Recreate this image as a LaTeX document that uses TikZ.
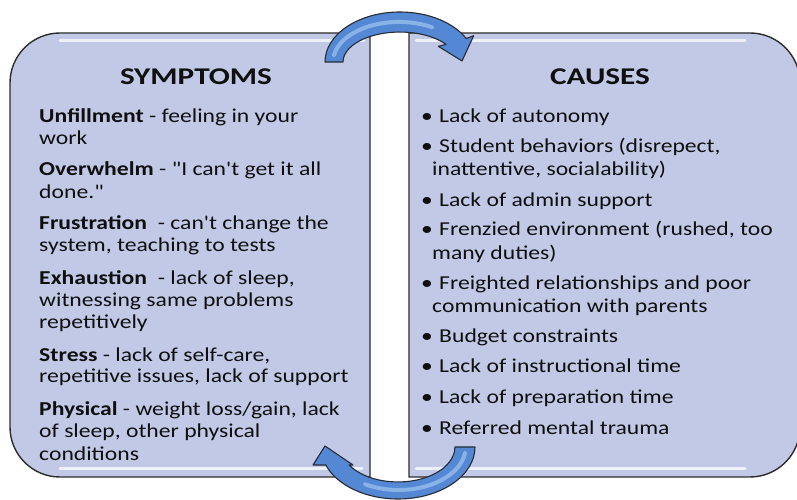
\documentclass[tikz,border=0pt]{standalone}
\usepackage{fontspec}
\newfontfamily\cf{Carlito}
\definecolor{boxfill}{RGB}{193,201,230}
\definecolor{boxline}{RGB}{45,45,45}
\definecolor{arrfill}{RGB}{84,136,212}
\definecolor{arrline}{RGB}{40,44,52}
\definecolor{arrhi}{RGB}{160,196,240}
\definecolor{txt}{RGB}{15,15,15}
\begin{document}
\begin{tikzpicture}[x=1pt,y=1pt,
  box/.style={fill=boxfill, draw=boxline, line width=1.4pt},
  hilite/.style={draw=white, line width=3pt, opacity=0.75, line cap=round},
  arr/.style={fill=arrfill, draw=arrline, line width=1.1pt, line join=round},
  arrgloss/.style={draw=arrhi, line width=4pt, opacity=0.7, line cap=round},
  ttl/.style={font=\cf\bfseries\fontsize{24}{27}\selectfont, text=txt, anchor=base, inner sep=0pt, xscale=1.3},
  ln/.style={font=\cf\fontsize{19.7}{22}\selectfont, text=txt, anchor=base west, inner sep=0pt, xscale=1.2},
]
\useasboundingbox (0,0) rectangle (797,500);
\clip (0,0) rectangle (797,500);
\fill[white] (0,0) rectangle (797,500);

% boxes
\path[box] (370,467) -- (60,467) arc[start angle=90,end angle=180,radius=50]
  -- (10,73) arc[start angle=180,end angle=270,radius=50] -- (370,23) -- cycle;
\path[box] (409,467) -- (750,467) arc[start angle=90,end angle=0,radius=50]
  -- (800,73) arc[start angle=0,end angle=-90,radius=50] -- (409,23) -- cycle;
\draw[hilite] (60,459) -- (364,459);
\draw[hilite] (60,31) -- (362,31);
\draw[hilite] (416,459) -- (745,459);
\draw[hilite] (416,31) -- (745,31);

% top arrow
\path[arr] (325,438) arc[start angle=180,end angle=28,x radius=75,y radius=50]
  -- (473.7,464.3) -- (462,439) -- (438.3,453.7) -- (446.1,455.6)
  arc[start angle=36,end angle=180,x radius=57,y radius=30] -- cycle;
\draw[arrgloss] (334,445) arc[start angle=170,end angle=60,x radius=66,y radius=40];

% bottom arrow
\path[arr] (475,53) arc[start angle=0,end angle=-159.7,x radius=77,y radius=52]
  -- (313,35) -- (325,54) -- (353,35) -- (349.1,35)
  arc[start angle=-149,end angle=0,x radius=57,y radius=35] -- cycle;
\draw[arrgloss] (465,47) arc[start angle=-8,end angle=-120,x radius=67,y radius=43];

% titles
\node[ttl] (symt) at (196,415) {SYMPTOMS};
\node[ttl] (caut) at (600,415) {CAUSES};

% symptoms
\node[ln] (s1) at (39,377) {\bfseries Unfillment\mdseries\ - feeling in your};
\node[ln] (s2) at (39,355) {work};
\node[ln] (s3) at (39,324) {\bfseries Overwhelm\mdseries\ - "I can't get it all};
\node[ln] (s4) at (39,301) {done."};
\node[ln] (s5) at (39,270) {\bfseries Frustration\mdseries\ \ - can't change the};
\node[ln] (s6) at (39,248) {system, teaching to tests};
\node[ln] (s7) at (39,215) {\bfseries Exhaustion\mdseries\ \ - lack of sleep,};
\node[ln] (s8) at (39,193) {witnessing same problems};
\node[ln] (s9) at (39,171) {repetitively};
\node[ln] (s10) at (39,138) {\bfseries Stress\mdseries\ - lack of self-care,};
\node[ln] (s11) at (39,117) {repetitive issues, lack of support};
\node[ln] (s12) at (39,84) {\bfseries Physical\mdseries\ - weight loss/gain, lack};
\node[ln] (s13) at (39,62) {of sleep, other physical};
\node[ln] (s14) at (39,39) {conditions};

% causes
\foreach \n/\y in {b1/377,b2/347,b3/293,b4/264,b5/210,b6/157,b7/127,b8/96,b9/65}
  \node[ln] (\n) at (421,\y) {•};
\node[ln] (c1) at (439,377) {Lack of autonomy};
\node[ln] (c2) at (439,347) {Student behaviors (disrepect,};
\node[ln] (c2b) at (432,324) {inattentive, socialability)};
\node[ln] (c3) at (439,293) {Lack of admin support};
\node[ln] (c4) at (439,264) {Frenzied environment (rushed, too};
\node[ln] (c4b) at (432,240) {many duties)};
\node[ln] (c5) at (439,210) {Freighted relationships and poor};
\node[ln] (c5b) at (432,187) {communication with parents};
\node[ln] (c6) at (439,157) {Budget constraints};
\node[ln] (c7) at (439,127) {Lack of instructional time};
\node[ln] (c8) at (439,96) {Lack of preparation time};
\node[ln] (c9) at (439,65) {Referred mental trauma};
\end{tikzpicture}
\end{document}
